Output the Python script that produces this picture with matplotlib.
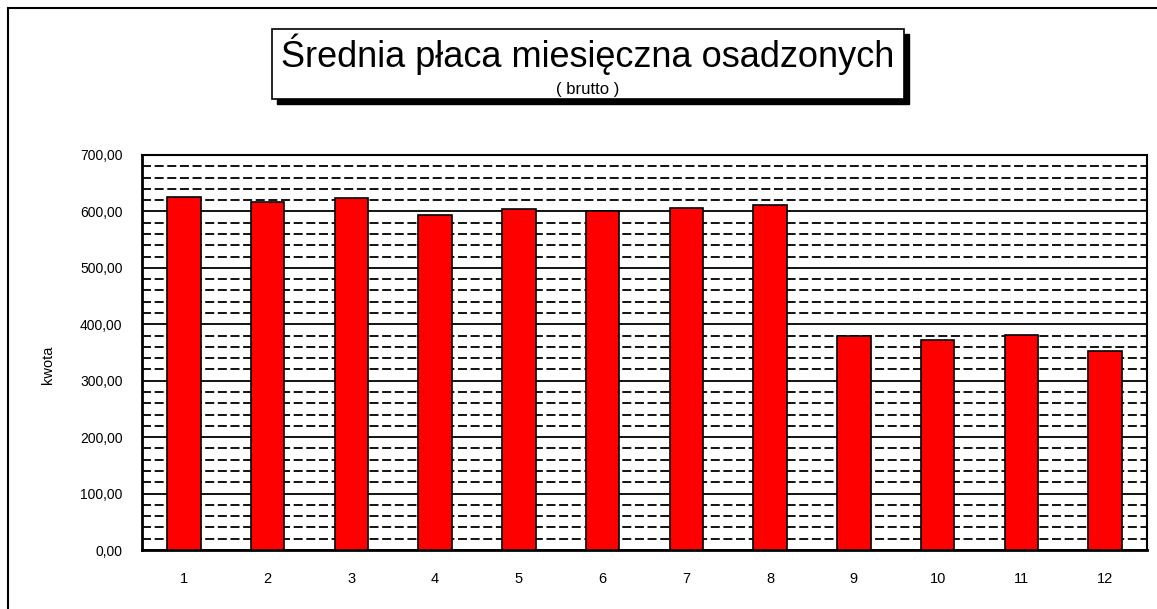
import matplotlib.pyplot as plt
from matplotlib.patches import Rectangle
from matplotlib.ticker import FixedLocator, FuncFormatter

plt.rcParams["font.family"] = ["Liberation Sans", "DejaVu Sans"]

months = [1, 2, 3, 4, 5, 6, 7, 8, 9, 10, 11, 12]
avg_wage = [626, 616, 624, 594, 604, 601, 606, 611, 379, 372, 381, 353]

title_text = "Średnia płaca miesięczna osadzonych"
subtitle_text = "( brutto )"
y_label = "kwota"

W, H = 1157, 609
fig = plt.figure(figsize=(W / 100, H / 100), dpi=100)


def fx(px):
    return px / W


def fy(py):
    return 1 - py / H


# outer frame of the sheet
fig.patches.append(Rectangle((fx(8), fy(640)), fx(1200 - 8), 640 / H - 8 / H,
                             transform=fig.transFigure, fill=False,
                             edgecolor="black", linewidth=1.5))

# plot area
left, right, top, bottom = 142, 1147, 155, 550
ax = fig.add_axes([fx(left), fy(bottom), fx(right - left), (bottom - top) / H])

ax.set_ylim(0, 700)
ax.set_xlim(0.5, 12.5)

ax.yaxis.set_major_locator(FixedLocator(range(0, 701, 100)))
ax.yaxis.set_minor_locator(FixedLocator([v for v in range(0, 701, 20) if v % 100]))
ax.grid(which="major", axis="y", color="black", linewidth=1.3, linestyle="-")
ax.grid(which="minor", axis="y", color="black", linewidth=1.3, linestyle=(0, (5, 2)))
ax.set_axisbelow(True)

ax.bar(months, avg_wage, width=0.4, color="#ff0000", edgecolor="black",
       linewidth=1.2, zorder=3)

ax.set_xticks(months)
ax.set_xticklabels([str(m) for m in months])
ax.yaxis.set_major_formatter(FuncFormatter(lambda v, p: f"{v:.2f}".replace(".", ",")))
ax.tick_params(axis="y", which="both", length=0, pad=14, labelsize=10)
ax.tick_params(axis="x", direction="in", length=4, width=1.5, pad=16, labelsize=10.5)

for side in ["left", "bottom"]:
    ax.spines[side].set_linewidth(2)
for side in ["top", "right"]:
    ax.spines[side].set_linewidth(1.5)

ax.set_ylabel(y_label, fontsize=10.5, labelpad=18, y=0.47)

# title box with shadow
bx0, by0, bx1, by1 = 272, 29, 904, 99
fig.patches.append(Rectangle((fx(bx0 + 5), fy(by1 + 5)), fx(bx1 - bx0), (by1 - by0) / H,
                             transform=fig.transFigure, facecolor="black",
                             edgecolor="black", zorder=1))
fig.patches.append(Rectangle((fx(bx0), fy(by1)), fx(bx1 - bx0), (by1 - by0) / H,
                             transform=fig.transFigure, facecolor="white",
                             edgecolor="black", linewidth=1.2, zorder=2))
fig.text(fx((bx0 + bx1) / 2), fy(67), title_text, ha="center", va="baseline",
         fontsize=26, zorder=3)
fig.text(fx((bx0 + bx1) / 2), fy(94), subtitle_text, ha="center", va="baseline",
         fontsize=12, zorder=3)

fig.savefig("out.png", dpi=100)
